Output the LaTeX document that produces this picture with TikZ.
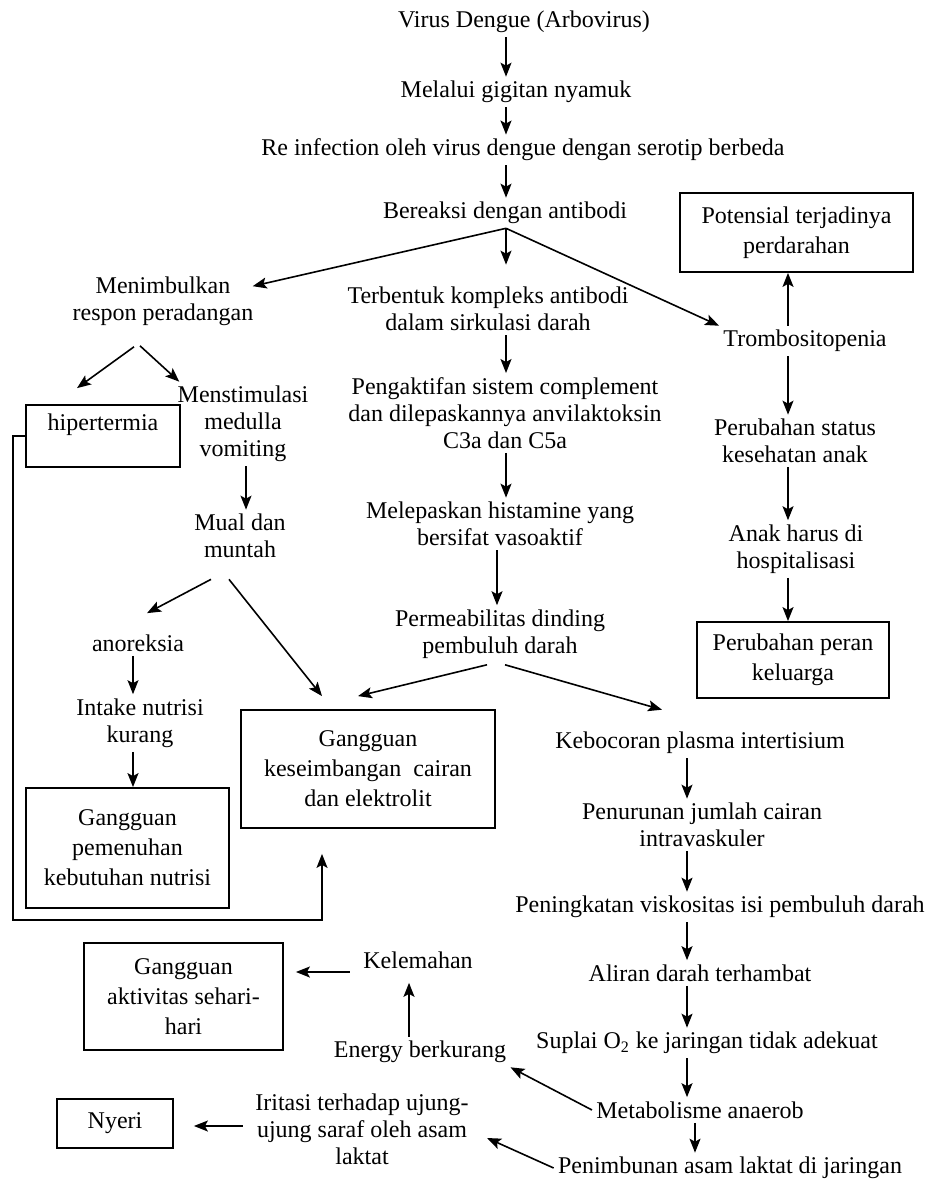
\documentclass[tikz,border=0pt]{standalone}
\usepackage{fontspec}
\setmainfont{Liberation Serif}
\usetikzlibrary{arrows.meta}

\begin{document}
\begin{tikzpicture}[x=0.5pt, y=-0.5pt,
    every node/.style = {align=center, inner sep=2pt,
      font=\fontsize{12}{13.5}\selectfont},
    kotak/.style = {draw, line width=0.9pt,
      font=\fontsize{12}{15}\selectfont},
    panah/.style = {-{Stealth[length=7pt,width=5.5pt,inset=1.5pt]},
      line width=0.8pt}]
  \useasboundingbox (0,0) rectangle (939,1181);

  % kolom panah tegak
  \coordinate (kA) at (506,0);
  \coordinate (kB) at (788,0);
  \coordinate (kC) at (497,0);
  \coordinate (kD) at (687,0);
  \coordinate (kE) at (695,0);
  \coordinate (kF) at (246,0);
  \coordinate (kG) at (133,0);
  \coordinate (kH) at (409,0);
  \coordinate (belok) at (13,920);

  \node (virus) at (524,22) {Virus Dengue (Arbovirus)};
  \node (melalui) at (516,92) {Melalui gigitan nyamuk};
  \node (reinf) at (523,150) {Re infection oleh virus dengue dengan serotip berbeda};
  \node (bereaksi) at (505,213) {Bereaksi dengan antibodi};
  \node[kotak, minimum width=116.5pt, minimum height=39.5pt] (potensial) at (796.5,232.5)
    {Potensial terjadinya\\perdarahan};
  \node (menimbulkan) at (163,301) {Menimbulkan\\respon peradangan};
  \node (terbentuk) at (488,309) {Terbentuk kompleks antibodi\\dalam sirkulasi darah};
  \node (trombo) at (805,341) {Trombositopenia};
  \node[kotak, minimum width=77pt, inner ysep=0pt, text height=12.5pt,
    text depth=18.5pt] (hiper) at (103,436) {hipertermia};
  \node (menstim) at (243,424) {Menstimulasi\\medulla\\vomiting};
  \node (mual) at (240,536) {Mual dan\\muntah};
  \node (pengaktifan) at (505,413)
    {Pengaktifan sistem complement\\dan dilepaskannya anvilaktoksin\\C3a dan C5a};
  \node (melepaskan) at (500,524) {Melepaskan histamine yang\\bersifat vasoaktif};
  \node (permeab) at (500,634) {Permeabilitas dinding\\pembuluh darah};
  \node (perstatus) at (795,441) {Perubahan status\\kesehatan anak};
  \node (anak) at (796,549) {Anak harus di\\hospitalisasi};
  \node[kotak, minimum width=96pt, minimum height=38pt] (peran) at (793,660)
    {Perubahan peran\\keluarga};
  \node (anoreksia) at (138,643) {anoreksia};
  \node (intake) at (140,723) {Intake nutrisi\\kurang};
  \node[kotak, minimum width=101.5pt, minimum height=60pt] (pemenuhan) at (127.5,848)
    {Gangguan\\pemenuhan\\kebutuhan nutrisi};
  \node[kotak, minimum width=127pt, minimum height=59pt] (keseimbangan) at (368,769)
    {Gangguan\\keseimbangan\ \ cairan\\dan elektrolit};
  \node (kebocoran) at (700,743) {Kebocoran plasma intertisium};
  \node (penurunan) at (702,825) {Penurunan jumlah cairan\\intravaskuler};
  \node (peningkatan) at (720,907) {Peningkatan viskositas isi pembuluh darah};
  \node (aliran) at (700,973) {Aliran darah terhambat};
  \node (suplai) at (707,1043) {Suplai O\textsubscript{2} ke jaringan tidak adekuat};
  \node (metab) at (700,1110) {Metabolisme anaerob};
  \node (penimbunan) at (730,1168) {Penimbunan asam laktat di jaringan};
  \node[kotak, minimum width=99.5pt, minimum height=53.5pt] (aktivitas) at (183.5,996.5)
    {Gangguan\\aktivitas sehari-\\hari};
  \node (kelemahan) at (418,960) {Kelemahan};
  \node (energy) at (420,1052) {Energy berkurang};
  \node[kotak, minimum width=58pt, minimum height=24.5pt] (nyeri) at (115,1123.5) {Nyeri};
  \node (iritasi) at (362,1129) {Iritasi terhadap ujung-\\ujung saraf oleh asam\\laktat};

  % alur atas
  \draw[panah] (virus.south -| kA) -- (melalui.north -| kA);
  \draw[panah] (melalui.south -| kA) -- (reinf.north -| kA);
  \draw[panah] (reinf.south -| kA) -- (bereaksi.north -| kA);
  \draw[panah, shorten >=9pt] (bereaksi.south -| kA) -- (terbentuk.north -| kA);
  \draw[panah] (bereaksi.south -| kA) -- ([shift={(-5,14)}]menimbulkan.north east);
  \draw[panah] (bereaksi.south -| kA) -- (trombo.north west);

  % cabang kanan
  \draw[panah] (trombo.north -| kB) -- (potensial.south -| kB);
  \draw[panah] (trombo.south -| kB) -- (perstatus.north -| kB);
  \draw[panah] (perstatus.south -| kB) -- (anak.north -| kB);
  \draw[panah] (anak.south -| kB) -- (peran.north -| kB);

  % cabang tengah
  \draw[panah] (terbentuk.south -| kA) -- (pengaktifan.north -| kA);
  \draw[panah] (pengaktifan.south -| kA) -- (melepaskan.north -| kA);
  \draw[panah] (melepaskan.south -| kC) -- (permeab.north -| kC);
  \draw[panah] ([shift={(-13,2)}]permeab.south) -- ([shift={(-10,-13)}]keseimbangan.north);
  \draw[panah] ([shift={(5,2)}]permeab.south) -- ([shift={(-38,-18)}]kebocoran.north);

  % cabang kiri
  \draw[panah] ([shift={(-29,17)}]menimbulkan.south) -- ([shift={(-26,-16)}]hiper.north);
  \draw[panah] ([shift={(-23,16)}]menimbulkan.south) -- ([shift={(6,0)}]menstim.north west);
  \draw[panah] (menstim.south -| kF) -- (mual.north -| kF);
  \draw[panah] ([shift={(-29,17)}]mual.south) -- ([shift={(9,-17)}]anoreksia.north);
  \draw[panah] ([shift={(-11,17)}]mual.south) -- ([shift={(-46,-13)}]keseimbangan.north);
  \draw[panah] (anoreksia.south -| kG) -- (intake.north -| kG);
  \draw[panah] (intake.south -| kG) -- (pemenuhan.north -| kG);
  \draw[panah] (hiper.west) -| (belok) -| ([shift={(-46,25)}]keseimbangan.south);

  % alur bawah
  \draw[panah] (kebocoran.south -| kD) -- (penurunan.north -| kD);
  \draw[panah] (penurunan.south -| kD) -- (peningkatan.north -| kD);
  \draw[panah] (peningkatan.south -| kD) -- (aliran.north -| kD);
  \draw[panah] (aliran.south -| kD) -- (suplai.north -| kD);
  \draw[panah] (suplai.south -| kD) -- (metab.north -| kD);
  \draw[panah] (metab.south -| kE) -- (penimbunan.north -| kE);
  \draw[panah] (metab.west) -- (energy.south east);
  \draw[panah] (penimbunan.west) -- ([shift={(14,9)}]iritasi.east);
  \draw[panah, shorten >=5pt] (energy.north -| kH) -- (kelemahan.south -| kH);
  \draw[panah] ([shift={(-9,12)}]kelemahan.west) -- ([shift={(12,-24.5)}]aktivitas.east);
  \draw[panah] ([shift={(-8,-3)}]iritasi.west) -- ([shift={(20,2.5)}]nyeri.east);
\end{tikzpicture}
\end{document}
